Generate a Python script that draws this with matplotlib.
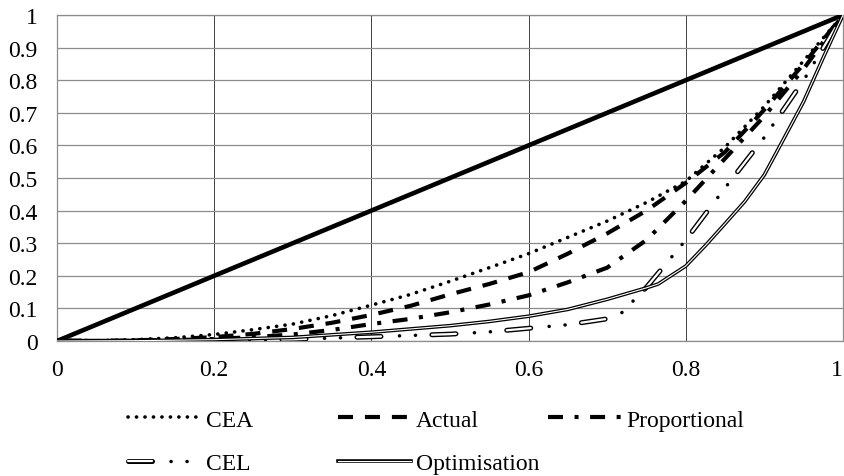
import numpy as np
import matplotlib
matplotlib.use('Agg')
import matplotlib.pyplot as plt
from matplotlib.legend_handler import HandlerTuple

# values
share = [0, 0.05, 0.1, 0.15, 0.2, 0.25, 0.3, 0.35, 0.4, 0.45, 0.5,
         0.55, 0.6, 0.65, 0.7, 0.75, 0.8, 0.85, 0.9, 0.95, 1]
cea = [0, 0.001, 0.004, 0.01, 0.02, 0.035, 0.052, 0.078, 0.11, 0.143, 0.183,
       0.225, 0.268, 0.318, 0.368, 0.425, 0.49, 0.595, 0.72, 0.86, 1]
actual = [0, 0.0005, 0.002, 0.006, 0.012, 0.022, 0.037, 0.056, 0.08, 0.108, 0.143,
          0.175, 0.211, 0.268, 0.33, 0.4, 0.485, 0.58, 0.71, 0.85, 1]
proportional = [0, 0.0003, 0.001, 0.003, 0.006, 0.012, 0.02, 0.034, 0.052, 0.068, 0.088,
                0.112, 0.14, 0.18, 0.225, 0.31, 0.43, 0.56, 0.69, 0.835, 1]

cel_x = [0, 0.1, 0.2, 0.3, 0.4, 0.5, 0.55, 0.6, 0.65, 0.7, 0.715, 0.75, 0.8, 0.85, 0.9, 0.95, 1]
cel = [0, 0.0005, 0.002, 0.005, 0.013, 0.021, 0.028, 0.039, 0.05, 0.068, 0.078, 0.165, 0.31, 0.47, 0.625, 0.8, 1]

opt_x = [0, 0.1, 0.2, 0.3, 0.4, 0.5, 0.55, 0.6, 0.65, 0.7, 0.75, 0.765, 0.8, 0.825, 0.85,
         0.875, 0.9, 0.925, 0.95, 0.975, 1]
opt = [0, 0.001, 0.004, 0.011, 0.027, 0.047, 0.06, 0.076, 0.097, 0.128, 0.163, 0.175, 0.23, 0.293, 0.36,
       0.428, 0.51, 0.622, 0.735, 0.87, 1]

equal_x = [0, 1]
equal_y = [0, 1]

x_ticks = [0, 0.2, 0.4, 0.6, 0.8, 1]
x_labels = ['0', '0.2', '0.4', '0.6', '0.8', '1']
y_ticks = [0, 0.1, 0.2, 0.3, 0.4, 0.5, 0.6, 0.7, 0.8, 0.9, 1]
y_labels = ['0', '0.1', '0.2', '0.3', '0.4', '0.5', '0.6', '0.7', '0.8', '0.9', '1']

plt.rcParams['font.family'] = ['Liberation Serif', 'DejaVu Serif']
plt.rcParams['font.size'] = 17
plt.rcParams['lines.scale_dashes'] = False

fig = plt.figure(figsize=(8.45, 4.77), dpi=100)
ax = fig.add_axes([57/845, 135/477, 786/845, 326/477])
ax.set_xlim(0, 1)
ax.set_ylim(0, 1)
ax.set_xticks(x_ticks)
ax.set_xticklabels(x_labels)
ax.get_xticklabels()[-1].set_horizontalalignment('right')
ax.set_yticks(y_ticks)
ax.set_yticklabels(y_labels)
ax.tick_params(axis='both', length=0)
ax.tick_params(axis='x', pad=13)
ax.tick_params(axis='y', pad=14)
ax.grid(axis='y', color='#8c8c8c', lw=0.9)
ax.grid(axis='x', color='#404040', lw=0.7)
ax.set_axisbelow(True)
for s in ax.spines.values():
    s.set_color('#8c8c8c')
    s.set_linewidth(0.9)

ax.plot(equal_x, equal_y, color='black', lw=3.3, solid_capstyle='butt', zorder=3)

cea_line, = ax.plot(share, cea, color='black', lw=2.6,
                    linestyle=(0, (0.1, 6.0)), dash_capstyle='round', zorder=3)
actual_line, = ax.plot(share, actual, color='black', lw=3.0,
                       linestyle=(0, (10.8, 8.6)), dash_capstyle='butt', zorder=3)
prop_line, = ax.plot(share, proportional, color='black', lw=3.0,
                     linestyle=(0, (10.8, 8.3, 2.9, 8.3)), dash_capstyle='butt', zorder=3)

# CEL: hollow dash followed by two dots
cel_out, = ax.plot(cel_x, cel, color='black', lw=3.6,
                   linestyle=(0, (17.3, 36.7)), dash_capstyle='round', zorder=3)
cel_in, = ax.plot(cel_x, cel, color='white', lw=1.6,
                  linestyle=(0, (17.3, 36.7)), dash_capstyle='round', zorder=3)
cel_dot, = ax.plot(cel_x, cel, color='black', lw=2.5,
                   linestyle=(23.4, (0.1, 11.4, 0.1, 42.4)), dash_capstyle='round', zorder=3)

# Optimisation: double line
opt_out, = ax.plot(opt_x, opt, color='black', lw=2.6, zorder=3)
opt_in, = ax.plot(opt_x, opt, color='white', lw=0.8, zorder=3)

hmap = {tuple: HandlerTuple(ndivide=1)}
leg_kw = dict(loc='upper left', frameon=False, borderpad=0, borderaxespad=0,
              handlelength=3.1, handletextpad=0.2, labelspacing=0.95,
              bbox_transform=fig.transFigure, handler_map=hmap, fontsize=17)
top = 1 - 410/477
fig.legend([cea_line, (cel_out, cel_in, cel_dot)], ['CEA', 'CEL'],
           bbox_to_anchor=(128/845, top), **leg_kw)
fig.legend([actual_line, (opt_out, opt_in)], ['Actual', 'Optimisation'],
           bbox_to_anchor=(338/845, top), **leg_kw)
fig.legend([prop_line], ['Proportional'],
           bbox_to_anchor=(548/845, top), **leg_kw)

fig.savefig('out.png', dpi=100)
